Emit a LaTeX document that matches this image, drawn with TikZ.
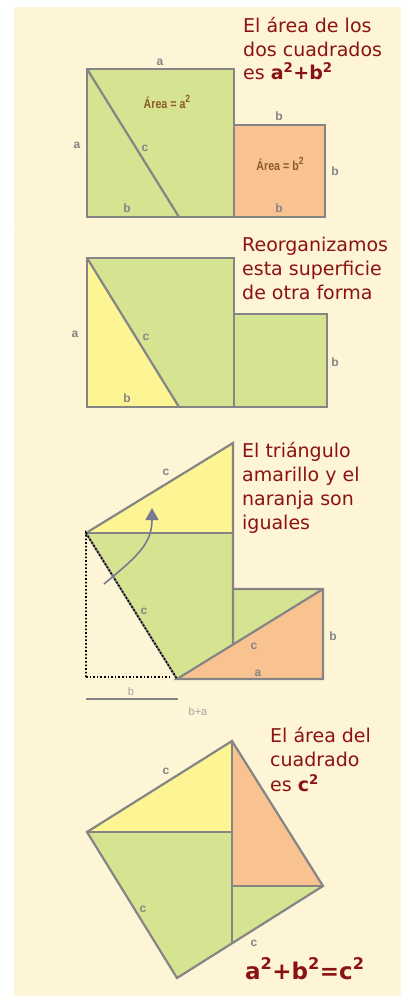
\documentclass[tikz,border=0pt]{standalone}
\usepackage{fontspec}
\setmainfont{DejaVu Sans}
\newfontfamily\lblfont{Liberation Sans}
\usetikzlibrary{arrows.meta}
\definecolor{bgcream}{HTML}{FEF5D6}
\definecolor{sepline}{HTML}{FFF8E2}
\definecolor{grn}{HTML}{D6E391}
\definecolor{yel}{HTML}{FDF593}
\definecolor{org}{HTML}{F9C391}
\definecolor{edge}{HTML}{858585}
\definecolor{txtred}{HTML}{8B1212}
\definecolor{brn}{HTML}{8E5A2A}
\definecolor{lblgrey}{HTML}{858585}
\newcommand{\suptwo}{\textsuperscript{2}}
\newcommand{\bigsup}[1]{\raisebox{0.9ex}{\fontsize{10.5}{10.5}\selectfont #1}}
\tikzset{
  shape edge/.style={draw=edge, line width=2.2pt, line join=miter},
  lbl/.style={font=\lblfont\bfseries\fontsize{12}{12}\selectfont, text=lblgrey, inner sep=0pt},
  lbllight/.style={font=\lblfont\fontsize{11}{11}\selectfont, text=lblgrey!75, inner sep=0pt},
  arealbl/.style={font=\lblfont\bfseries\fontsize{13}{13}\selectfont, text=brn, inner sep=0pt},
  caption/.style={font=\fontsize{19}{24}\selectfont, text=txtred, anchor=base west, inner sep=0pt},
  formula/.style={font=\bfseries\fontsize{23}{26}\selectfont, text=txtred, anchor=base west, inner sep=0pt},
  dotline/.style={draw=black, line width=1.6pt, dotted},
  movearrow/.style={draw=edge!90!blue, line width=1.6pt, -{Triangle[length=12pt,width=13pt]}},
}
\begin{document}
\begin{tikzpicture}[x=1pt,y=-1pt]
\useasboundingbox (0,0) rectangle (401,996);
\fill[white] (0,0) rectangle (401,996);
\fill[bgcream] (14,7) rectangle (401,996);
\draw[sepline, line width=0.8pt] (14,230) -- (401,230);
\draw[sepline, line width=0.8pt] (80,715) -- (325,715);

% ---------- Panel 1 ----------
\coordinate (A1) at (87,69);
\coordinate (B1) at (234,69);
\coordinate (C1) at (234,217);
\coordinate (D1) at (87,217);
\coordinate (E1) at (179,217);
\coordinate (F1) at (234,125);
\coordinate (G1) at (325,125);
\coordinate (H1) at (325,217);
\fill[grn] (A1) rectangle (C1);
\fill[org] (F1) rectangle (H1);
\draw[shape edge] (A1) rectangle (C1);
\draw[shape edge] (F1) rectangle (H1);
\draw[shape edge] (A1) -- (E1);
\node[lbl] (l1a) at (160,62) {a};
\node[lbl] (l1a2) at (77,145) {a};
\node[lbl] (l1c) at (145,148) {c};
\node[lbl] (l1b) at (127,208) {b};
\node[arealbl] (ar1) at (167,102) {\scalebox{0.82}[1]{Área = a\bigsup{2}}};
\node[lbl] (l1b2) at (279,116) {b};
\node[lbl] (l1b3) at (335,171) {b};
\node[lbl] (l1b4) at (279,208) {b};
\node[arealbl] (ar2) at (280,164) {\scalebox{0.82}[1]{Área = b\bigsup{2}}};
\node[caption] (t1a) at (243,32) {El área de los};
\node[caption] (t1b) at (243,56) {dos cuadrados};
\node[caption] (t1c) at (243,79) {es \textbf{a\suptwo+b\suptwo}};

% ---------- Panel 2 ----------
\coordinate (A2) at (87,258);
\coordinate (C2) at (234,407);
\coordinate (D2) at (87,407);
\coordinate (E2) at (179,407);
\coordinate (F2) at (234,314);
\coordinate (H2) at (327,407);
\fill[grn] (A2) rectangle (C2);
\fill[yel] (A2) -- (D2) -- (E2) -- cycle;
\fill[grn] (F2) rectangle (H2);
\draw[shape edge] (A2) rectangle (C2);
\draw[shape edge] (F2) rectangle (H2);
\draw[shape edge] (A2) -- (E2);
\node[lbl] (l2a) at (75,334) {a};
\node[lbl] (l2c) at (146,337) {c};
\node[lbl] (l2b) at (127,398) {b};
\node[lbl] (l2b2) at (335,362) {b};
\node[caption] (t2a) at (242,251) {Reorganizamos};
\node[caption] (t2b) at (242,275) {esta superficie};
\node[caption] (t2c) at (242,299) {de otra forma};

% ---------- Panel 3 ----------
\coordinate (P) at (86,533);
\coordinate (Q) at (233,443);
\coordinate (R) at (233,533);
\coordinate (S) at (233,645);
\coordinate (T) at (177,679);
\coordinate (U) at (323,679);
\coordinate (V) at (323,589);
\coordinate (W) at (233,589);
\coordinate (X) at (86,677);
\coordinate (Y) at (172,677);
\fill[yel] (P) -- (Q) -- (R) -- cycle;
\fill[grn] (P) -- (R) -- (S) -- (T) -- cycle;
\fill[grn] (W) -- (V) -- (S) -- cycle;
\fill[org] (T) -- (U) -- (V) -- cycle;
\draw[shape edge] (P) -- (Q) -- (S);
\draw[shape edge] (P) -- (R);
\draw[shape edge] (W) -- (V) -- (U) -- (T) -- (V);
\draw[shape edge] (P) -- (T);
\draw[dotline] (X) -- (P) -- (T);
\draw[dotline] (X) -- (Y);
\coordinate (arS) at (104,584);
\coordinate (arE) at (152,508);
\draw[movearrow] (arS) .. controls (135,558) and (152,545) .. (arE);
\node[lbl] (l3c1) at (166,472) {c};
\node[lbl] (l3c2) at (144,611) {c};
\node[lbl] (l3c3) at (254,646) {c};
\node[lbl] (l3a) at (258,673) {a};
\node[lbl] (l3b) at (333,636) {b};
\coordinate (bl1) at (86,699);
\coordinate (bl2) at (178,699);
\draw[edge, line width=1.4pt] (bl1) -- (bl2);
\node[lbllight] (l3b2) at (131,692) {b};
\node[lbllight] (l3ba) at (198,712) {b+a};
\node[caption] (t3a) at (242,457) {El triángulo};
\node[caption] (t3b) at (242,481) {amarillo y el};
\node[caption] (t3c) at (242,505) {naranja son};
\node[caption] (t3d) at (242,529) {iguales};

% ---------- Panel 4 ----------
\coordinate (L4) at (87,832);
\coordinate (T4) at (232,741);
\coordinate (R4) at (323,886);
\coordinate (B4) at (177,978);
\coordinate (M4) at (232,832);
\coordinate (N4) at (232,886);
\coordinate (O4) at (232,943);
\fill[grn] (L4) -- (M4) -- (N4) -- (R4) -- (B4) -- cycle;
\fill[yel] (L4) -- (T4) -- (M4) -- cycle;
\fill[org] (T4) -- (R4) -- (N4) -- cycle;
\draw[shape edge] (L4) -- (T4) -- (R4) -- (B4) -- cycle;
\draw[shape edge] (T4) -- (O4);
\draw[shape edge] (L4) -- (M4);
\draw[shape edge] (N4) -- (R4);
\node[lbl] (l4c1) at (166,771) {c};
\node[lbl] (l4c2) at (143,909) {c};
\node[lbl] (l4c3) at (254,943) {c};
\node[caption] (t4a) at (270,742) {El área del};
\node[caption] (t4b) at (270,766) {cuadrado};
\node[caption] (t4c) at (270,791) {es \textbf{c\suptwo}};
\node[formula] (f4) at (245,979) {a\suptwo+b\suptwo=c\suptwo};
\end{tikzpicture}
\end{document}
